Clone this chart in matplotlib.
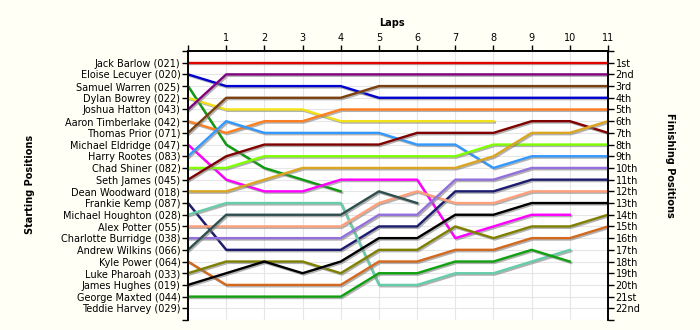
import matplotlib
matplotlib.use("Agg")
import matplotlib.pyplot as plt
import matplotlib.patheffects as pe

# starting grid, top to bottom
drivers = ["Jack Barlow (021)", "Eloise Lecuyer (020)", "Samuel Warren (025)",
           "Dylan Bowrey (022)", "Joshua Hatton (043)", "Aaron Timberlake (042)",
           "Thomas Prior (071)", "Michael Eldridge (047)", "Harry Rootes (083)",
           "Chad Shiner (082)", "Seth James (045)", "Dean Woodward (018)",
           "Frankie Kemp (087)", "Michael Houghton (028)", "Alex Potter (055)",
           "Charlotte Burridge (038)", "Andrew Wilkins (066)", "Kyle Power (064)",
           "Luke Pharoah (033)", "James Hughes (019)", "George Maxted (044)",
           "Teddie Harvey (029)"]

# position of each driver from the start (lap 0) to the lap they finished/retired
jack = [1, 1, 1, 1, 1, 1, 1, 1, 1, 1, 1, 1]
eloise = [2, 3, 3, 3, 3, 4, 4, 4, 4, 4, 4, 4]
samuel = [3, 8, 10, 11, 12]
dylan = [4, 5, 5, 5, 6, 6, 6, 6, 6]
joshua = [5, 2, 2, 2, 2, 2, 2, 2, 2, 2, 2, 2]
aaron = [6, 7, 6, 6, 5, 5, 5, 5, 5, 5, 5, 5]
thomas = [7, 4, 4, 4, 4, 3, 3, 3, 3, 3, 3, 3]
michael_e = [8, 11, 12, 12, 11, 11, 11, 16, 15, 14, 14]
harry = [9, 6, 7, 7, 7, 7, 8, 8, 10, 9, 9, 9]
chad = [10, 10, 9, 9, 9, 9, 9, 9, 8, 8, 8, 8]
seth = [11, 9, 8, 8, 8, 8, 7, 7, 7, 6, 6, 7]
dean = [12, 12, 11, 10, 10, 10, 10, 10, 9, 7, 7, 6]
frankie = [13, 17, 17, 17, 17, 15, 15, 12, 12, 11, 11, 11]
michael_h = [14, 13, 13, 13, 13, 20, 20, 19, 19, 18, 17]
alex = [15, 15, 15, 15, 15, 13, 12, 13, 13, 12, 12, 12]
charlotte = [16, 16, 16, 16, 16, 14, 14, 11, 11, 10, 10, 10]
andrew = [17, 14, 14, 14, 14, 12, 13]
kyle = [18, 20, 20, 20, 20, 18, 18, 17, 17, 16, 16, 15]
luke = [19, 18, 18, 18, 19, 17, 17, 15, 16, 15, 15, 14]
james = [20, 19, 18, 19, 18, 16, 16, 14, 14, 13, 13, 13]
george = [21, 21, 21, 21, 21, 19, 19, 18, 18, 17, 18]
teddie = []

laps = [jack, eloise, samuel, dylan, joshua, aaron, thomas, michael_e, harry,
        chad, seth, dean, frankie, michael_h, alex, charlotte, andrew, kyle,
        luke, james, george, teddie]

lap_labels = [str(i) for i in range(1, 12)]
finish_labels = ["1st", "2nd", "3rd"] + [f"{i}th" for i in range(4, 21)] + ["21st", "22nd"]

colors = ["#e00000", "#0000d0", "#109a10", "#f2e21a", "#800080", "#ff8020",
          "#7a4010", "#ff00ff", "#3399ff", "#80ff00", "#800000", "#daa520",
          "#1c1c70", "#66cdaa", "#ffa07a", "#9370db", "#2f4f4f", "#d2691e",
          "#808000", "#000000", "#10a010", "#000000"]

fig = plt.figure(figsize=(7, 3.3), dpi=100, facecolor="#fffff5")
ax = fig.add_axes([0.2686, 0.0303, 0.6, 0.8152])
ax.set_facecolor("white")

shadow = [pe.SimpleLineShadow(offset=(1, -1), shadow_color="#808080", alpha=0.6),
          pe.Normal()]
for pos, c in zip(laps, colors):
    if not pos:
        continue
    ax.plot(range(len(pos)), pos, color=c, lw=1.7, path_effects=shadow, zorder=3)

ax.set_xlim(0, 11)
ax.set_ylim(23, 0)

ax.set_xticks(range(0, 12))
ax.set_xticklabels([""] + lap_labels)
ax.xaxis.tick_top()
ax.set_yticks(range(0, 24))
ax.set_yticklabels([""] + drivers + [""])
ax.tick_params(axis="both", direction="out", length=4.5, width=1,
               labelsize=7, pad=1, colors="black")
ax.tick_params(axis="y", right=True)

ax2 = ax.twinx()
ax2.set_ylim(23, 0)
ax2.set_yticks(range(0, 24))
ax2.set_yticklabels([""] + finish_labels + [""])
ax2.tick_params(axis="y", direction="out", length=4.5, width=1, labelsize=7, pad=1)

for a in (ax, ax2):
    a.spines["bottom"].set_visible(False)
    for s in ("top", "left", "right"):
        a.spines[s].set_linewidth(1.2)

ax.grid(True, color="#e6e6e6", lw=0.8, zorder=0)
ax.set_axisbelow(True)

fig.text(0.56, 0.93, "Laps", ha="center", va="center", fontsize=7, fontweight="bold")
fig.text(0.043, 0.44, "Starting Positions", ha="center", va="center",
         rotation=90, fontsize=7, fontweight="bold")
fig.text(0.957, 0.50, "Finishing Positions", ha="center", va="center",
         rotation=270, fontsize=7, fontweight="bold")

fig.savefig("out.png", dpi=100, facecolor=fig.get_facecolor())
